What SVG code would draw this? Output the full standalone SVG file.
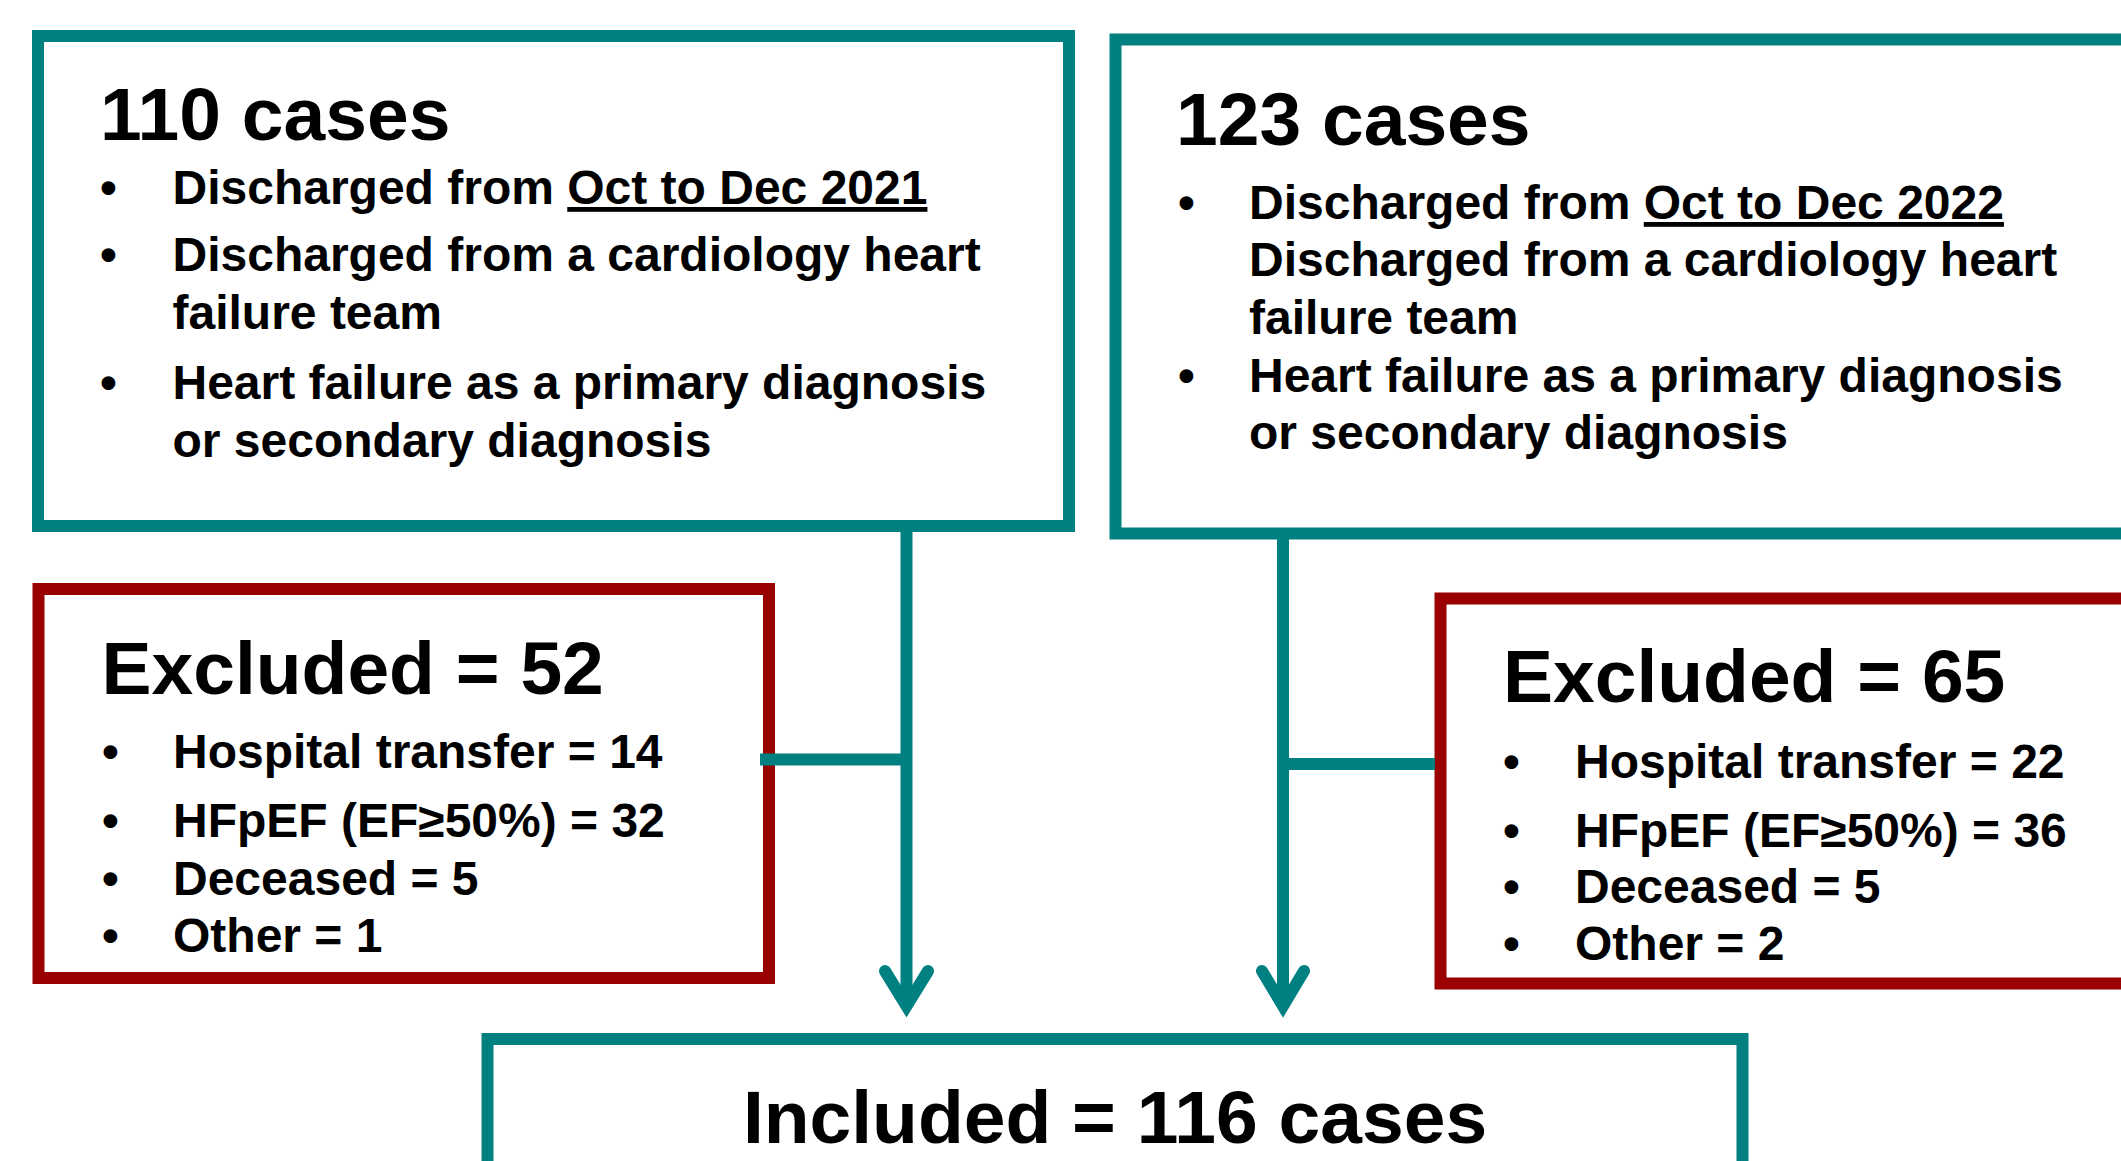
<svg xmlns="http://www.w3.org/2000/svg" width="2121" height="1161" viewBox="0 0 2121 1161">
<style>
.box{fill:#fff;stroke:#008080;stroke-width:12}
.exc{fill:#fff;stroke:#990000;stroke-width:12}
.h{font-family:"Liberation Sans",Arial,sans-serif;font-weight:bold;font-size:75px;fill:#000}
.t{font-family:"Liberation Sans",Arial,sans-serif;font-weight:bold;font-size:48px;fill:#000}
.u{text-decoration:underline}
.conn{stroke:#008080;stroke-width:12;fill:none}
.arrow{stroke:#008080;stroke-width:12;fill:none;stroke-linecap:round;stroke-linejoin:miter;stroke-miterlimit:10}
</style>
<rect width="2121" height="1161" fill="#fff"/>
<g id="cases2021">
<rect class="box" x="38" y="36" width="1031" height="490"/>
<text class="h" x="100" y="140">110 cases</text>
<text class="t" x="100" y="204">•</text>
<text class="t" x="172.5" y="204">Discharged from <tspan class="u">Oct to Dec 2021</tspan></text>
<text class="t" x="100" y="271">•</text>
<text class="t" x="172.5" y="271">Discharged from a cardiology heart</text>
<text class="t" x="172.5" y="329">failure team</text>
<text class="t" x="100" y="399">•</text>
<text class="t" x="172.5" y="399">Heart failure as a primary diagnosis</text>
<text class="t" x="172.5" y="457">or secondary diagnosis</text>
</g>
<g id="cases2022">
<rect class="box" x="1115.5" y="39.5" width="1030" height="494"/>
<text class="h" x="1176" y="145">123 cases</text>
<text class="t" x="1178" y="219">•</text>
<text class="t" x="1249" y="219">Discharged from <tspan class="u">Oct to Dec 2022</tspan></text>
<text class="t" x="1249" y="276">Discharged from a cardiology heart</text>
<text class="t" x="1249" y="334">failure team</text>
<text class="t" x="1178" y="392">•</text>
<text class="t" x="1249" y="392">Heart failure as a primary diagnosis</text>
<text class="t" x="1249" y="449">or secondary diagnosis</text>
</g>
<g id="excluded52">
<rect class="exc" x="38.5" y="589" width="730.5" height="389"/>
<text class="h" x="101.5" y="694">Excluded = 52</text>
<text class="t" x="102" y="768">•</text>
<text class="t" x="173" y="768">Hospital transfer = 14</text>
<text class="t" x="102" y="837">•</text>
<text class="t" x="173" y="837">HFpEF (EF≥50%) = 32</text>
<text class="t" x="102" y="895">•</text>
<text class="t" x="173" y="895">Deceased = 5</text>
<text class="t" x="102" y="952">•</text>
<text class="t" x="173" y="952">Other = 1</text>
</g>
<g id="excluded65">
<rect class="exc" x="1440.5" y="598.5" width="700" height="385"/>
<text class="h" x="1503" y="702">Excluded = 65</text>
<text class="t" x="1503" y="778">•</text>
<text class="t" x="1575" y="778">Hospital transfer = 22</text>
<text class="t" x="1503" y="847">•</text>
<text class="t" x="1575" y="847">HFpEF (EF≥50%) = 36</text>
<text class="t" x="1503" y="903">•</text>
<text class="t" x="1575" y="903">Deceased = 5</text>
<text class="t" x="1503" y="960">•</text>
<text class="t" x="1575" y="960">Other = 2</text>
</g>
<g id="included">
<rect class="box" x="487.5" y="1039" width="1255" height="160"/>
<text class="h" x="1115" y="1143" text-anchor="middle">Included = 116 cases</text>
</g>
<g id="connectors">
<path class="conn" d="M906.5 526 V1000"/>
<path class="conn" d="M760 759.5 H906.5"/>
<polyline class="arrow" points="885,971 906.5,1006 928,971"/>
<path class="conn" d="M1283 534 V1000"/>
<path class="conn" d="M1283 764 H1435"/>
<polyline class="arrow" points="1262,971 1283,1006 1304,971"/>
</g>
</svg>
